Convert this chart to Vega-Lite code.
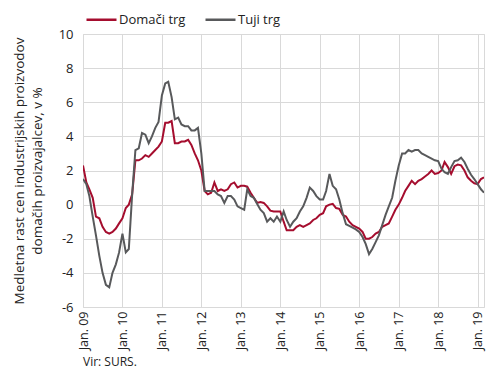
{
  "$schema": "https://vega.github.io/schema/vega-lite/v6.json",
  "width": 401,
  "height": 273,
  "autosize": {"type": "none"},
  "padding": {"left": 83, "top": 34, "right": 6, "bottom": 75},
  "background": "white",
  "config": {
    "font": "Open Sans",
    "view": {"stroke": "#d9d9d9", "strokeWidth": 1},
    "axis": {"labelFont": "Open Sans", "titleFont": "Open Sans", "labelColor": "#222", "titleColor": "#222"}
  },
  "title": {"text": "Vir: SURS.", "orient": "bottom", "anchor": "start", "frame": "group", "fontSize": 12, "fontWeight": "normal", "color": "#222", "offset": 7, "font": "Open Sans"},
  "data": {"values": [
    {"d":"2009-01-01","Domači trg":2.3,"Tuji trg":1.5},
    {"d":"2009-02-01","Domači trg":1.3,"Tuji trg":1.2},
    {"d":"2009-03-01","Domači trg":0.9,"Tuji trg":0.5},
    {"d":"2009-04-01","Domači trg":0.4,"Tuji trg":-0.7},
    {"d":"2009-05-01","Domači trg":-0.7,"Tuji trg":-1.8},
    {"d":"2009-06-01","Domači trg":-0.8,"Tuji trg":-3.0},
    {"d":"2009-07-01","Domači trg":-1.3,"Tuji trg":-4.0},
    {"d":"2009-08-01","Domači trg":-1.6,"Tuji trg":-4.7},
    {"d":"2009-09-01","Domači trg":-1.7,"Tuji trg":-4.85},
    {"d":"2009-10-01","Domači trg":-1.6,"Tuji trg":-4.0},
    {"d":"2009-11-01","Domači trg":-1.4,"Tuji trg":-3.5},
    {"d":"2009-12-01","Domači trg":-1.1,"Tuji trg":-2.8},
    {"d":"2010-01-01","Domači trg":-0.8,"Tuji trg":-1.7},
    {"d":"2010-02-01","Domači trg":-0.2,"Tuji trg":-2.8},
    {"d":"2010-03-01","Domači trg":0.0,"Tuji trg":-2.6},
    {"d":"2010-04-01","Domači trg":0.6,"Tuji trg":0.6},
    {"d":"2010-05-01","Domači trg":2.6,"Tuji trg":3.2},
    {"d":"2010-06-01","Domači trg":2.6,"Tuji trg":3.3},
    {"d":"2010-07-01","Domači trg":2.7,"Tuji trg":4.2},
    {"d":"2010-08-01","Domači trg":2.9,"Tuji trg":4.1},
    {"d":"2010-09-01","Domači trg":2.8,"Tuji trg":3.6},
    {"d":"2010-10-01","Domači trg":3.0,"Tuji trg":4.0},
    {"d":"2010-11-01","Domači trg":3.2,"Tuji trg":4.5},
    {"d":"2010-12-01","Domači trg":3.4,"Tuji trg":4.85},
    {"d":"2011-01-01","Domači trg":3.7,"Tuji trg":6.4},
    {"d":"2011-02-01","Domači trg":4.8,"Tuji trg":7.1},
    {"d":"2011-03-01","Domači trg":4.8,"Tuji trg":7.2},
    {"d":"2011-04-01","Domači trg":4.9,"Tuji trg":6.3},
    {"d":"2011-05-01","Domači trg":3.6,"Tuji trg":5.0},
    {"d":"2011-06-01","Domači trg":3.6,"Tuji trg":5.1},
    {"d":"2011-07-01","Domači trg":3.7,"Tuji trg":4.7},
    {"d":"2011-08-01","Domači trg":3.7,"Tuji trg":4.6},
    {"d":"2011-09-01","Domači trg":3.8,"Tuji trg":4.6},
    {"d":"2011-10-01","Domači trg":3.5,"Tuji trg":4.35},
    {"d":"2011-11-01","Domači trg":3.0,"Tuji trg":4.35},
    {"d":"2011-12-01","Domači trg":2.6,"Tuji trg":4.5},
    {"d":"2012-01-01","Domači trg":2.0,"Tuji trg":3.0},
    {"d":"2012-02-01","Domači trg":0.8,"Tuji trg":0.8},
    {"d":"2012-03-01","Domači trg":0.6,"Tuji trg":0.8},
    {"d":"2012-04-01","Domači trg":0.7,"Tuji trg":0.8},
    {"d":"2012-05-01","Domači trg":1.3,"Tuji trg":0.8},
    {"d":"2012-06-01","Domači trg":0.8,"Tuji trg":0.6},
    {"d":"2012-07-01","Domači trg":0.9,"Tuji trg":0.5},
    {"d":"2012-08-01","Domači trg":0.8,"Tuji trg":0.1},
    {"d":"2012-09-01","Domači trg":0.9,"Tuji trg":0.5},
    {"d":"2012-10-01","Domači trg":1.2,"Tuji trg":0.5},
    {"d":"2012-11-01","Domači trg":1.3,"Tuji trg":0.3},
    {"d":"2012-12-01","Domači trg":1.0,"Tuji trg":-0.1},
    {"d":"2013-01-01","Domači trg":1.1,"Tuji trg":-0.2},
    {"d":"2013-02-01","Domači trg":1.1,"Tuji trg":-0.3},
    {"d":"2013-03-01","Domači trg":1.05,"Tuji trg":0.9},
    {"d":"2013-04-01","Domači trg":0.7,"Tuji trg":0.5},
    {"d":"2013-05-01","Domači trg":0.4,"Tuji trg":0.4},
    {"d":"2013-06-01","Domači trg":0.1,"Tuji trg":0.04},
    {"d":"2013-07-01","Domači trg":0.15,"Tuji trg":-0.3},
    {"d":"2013-08-01","Domači trg":0.1,"Tuji trg":-0.5},
    {"d":"2013-09-01","Domači trg":-0.1,"Tuji trg":-1.0},
    {"d":"2013-10-01","Domači trg":-0.35,"Tuji trg":-0.8},
    {"d":"2013-11-01","Domači trg":-0.4,"Tuji trg":-1.0},
    {"d":"2013-12-01","Domači trg":-0.4,"Tuji trg":-0.7},
    {"d":"2014-01-01","Domači trg":-0.4,"Tuji trg":-1.0},
    {"d":"2014-02-01","Domači trg":-1.0,"Tuji trg":-0.4},
    {"d":"2014-03-01","Domači trg":-1.5,"Tuji trg":-0.9},
    {"d":"2014-04-01","Domači trg":-1.5,"Tuji trg":-1.3},
    {"d":"2014-05-01","Domači trg":-1.5,"Tuji trg":-1.0},
    {"d":"2014-06-01","Domači trg":-1.3,"Tuji trg":-0.8},
    {"d":"2014-07-01","Domači trg":-1.2,"Tuji trg":-0.4},
    {"d":"2014-08-01","Domači trg":-1.3,"Tuji trg":-0.1},
    {"d":"2014-09-01","Domači trg":-1.2,"Tuji trg":0.4},
    {"d":"2014-10-01","Domači trg":-1.1,"Tuji trg":1.0},
    {"d":"2014-11-01","Domači trg":-0.9,"Tuji trg":0.8},
    {"d":"2014-12-01","Domači trg":-0.8,"Tuji trg":0.5},
    {"d":"2015-01-01","Domači trg":-0.6,"Tuji trg":0.3},
    {"d":"2015-02-01","Domači trg":-0.5,"Tuji trg":0.3},
    {"d":"2015-03-01","Domači trg":-0.1,"Tuji trg":0.8},
    {"d":"2015-04-01","Domači trg":0.0,"Tuji trg":1.8},
    {"d":"2015-05-01","Domači trg":0.05,"Tuji trg":1.1},
    {"d":"2015-06-01","Domači trg":-0.2,"Tuji trg":0.9},
    {"d":"2015-07-01","Domači trg":-0.25,"Tuji trg":0.3},
    {"d":"2015-08-01","Domači trg":-0.6,"Tuji trg":-0.5},
    {"d":"2015-09-01","Domači trg":-0.7,"Tuji trg":-1.15},
    {"d":"2015-10-01","Domači trg":-1.0,"Tuji trg":-1.25},
    {"d":"2015-11-01","Domači trg":-1.2,"Tuji trg":-1.35},
    {"d":"2015-12-01","Domači trg":-1.3,"Tuji trg":-1.45},
    {"d":"2016-01-01","Domači trg":-1.4,"Tuji trg":-1.6},
    {"d":"2016-02-01","Domači trg":-1.6,"Tuji trg":-1.9},
    {"d":"2016-03-01","Domači trg":-2.0,"Tuji trg":-2.3},
    {"d":"2016-04-01","Domači trg":-2.0,"Tuji trg":-2.9},
    {"d":"2016-05-01","Domači trg":-1.9,"Tuji trg":-2.6},
    {"d":"2016-06-01","Domači trg":-1.7,"Tuji trg":-2.2},
    {"d":"2016-07-01","Domači trg":-1.6,"Tuji trg":-1.8},
    {"d":"2016-08-01","Domači trg":-1.3,"Tuji trg":-1.2},
    {"d":"2016-09-01","Domači trg":-1.2,"Tuji trg":-0.6},
    {"d":"2016-10-01","Domači trg":-1.1,"Tuji trg":-0.1},
    {"d":"2016-11-01","Domači trg":-0.7,"Tuji trg":0.4},
    {"d":"2016-12-01","Domači trg":-0.3,"Tuji trg":1.4},
    {"d":"2017-01-01","Domači trg":0.0,"Tuji trg":2.3},
    {"d":"2017-02-01","Domači trg":0.4,"Tuji trg":3.0},
    {"d":"2017-03-01","Domači trg":0.8,"Tuji trg":3.0},
    {"d":"2017-04-01","Domači trg":1.1,"Tuji trg":3.2},
    {"d":"2017-05-01","Domači trg":1.4,"Tuji trg":3.1},
    {"d":"2017-06-01","Domači trg":1.2,"Tuji trg":3.2},
    {"d":"2017-07-01","Domači trg":1.4,"Tuji trg":3.2},
    {"d":"2017-08-01","Domači trg":1.5,"Tuji trg":3.0},
    {"d":"2017-09-01","Domači trg":1.65,"Tuji trg":2.9},
    {"d":"2017-10-01","Domači trg":1.8,"Tuji trg":2.8},
    {"d":"2017-11-01","Domači trg":2.0,"Tuji trg":2.7},
    {"d":"2017-12-01","Domači trg":1.8,"Tuji trg":2.6},
    {"d":"2018-01-01","Domači trg":1.85,"Tuji trg":2.55},
    {"d":"2018-02-01","Domači trg":2.0,"Tuji trg":2.1},
    {"d":"2018-03-01","Domači trg":2.5,"Tuji trg":1.9},
    {"d":"2018-04-01","Domači trg":2.2,"Tuji trg":1.8},
    {"d":"2018-05-01","Domači trg":1.8,"Tuji trg":2.2},
    {"d":"2018-06-01","Domači trg":2.25,"Tuji trg":2.55},
    {"d":"2018-07-01","Domači trg":2.35,"Tuji trg":2.6},
    {"d":"2018-08-01","Domači trg":2.3,"Tuji trg":2.75},
    {"d":"2018-09-01","Domači trg":2.0,"Tuji trg":2.5},
    {"d":"2018-10-01","Domači trg":1.6,"Tuji trg":2.1},
    {"d":"2018-11-01","Domači trg":1.4,"Tuji trg":1.75},
    {"d":"2018-12-01","Domači trg":1.25,"Tuji trg":1.5},
    {"d":"2019-01-01","Domači trg":1.2,"Tuji trg":1.2},
    {"d":"2019-02-01","Domači trg":1.5,"Tuji trg":0.9},
    {"d":"2019-03-01","Domači trg":1.6,"Tuji trg":0.7}
  ]},
  "transform": [{"fold": ["Domači trg", "Tuji trg"], "as": ["serija", "v"]}],
  "mark": {"type": "line", "strokeWidth": 2, "clip": true},
  "encoding": {
    "x": {
      "field": "d", "type": "temporal",
      "scale": {"type": "utc", "domain": [{"year": 2009, "month": 1, "date": 1, "utc": true}, {"year": 2019, "month": 3, "date": 1, "utc": true}]},
      "axis": {
        "title": null,
        "values": [
          {"year": 2009, "month": 1, "date": 1, "utc": true},
          {"year": 2010, "month": 1, "date": 1, "utc": true},
          {"year": 2011, "month": 1, "date": 1, "utc": true},
          {"year": 2012, "month": 1, "date": 1, "utc": true},
          {"year": 2013, "month": 1, "date": 1, "utc": true},
          {"year": 2014, "month": 1, "date": 1, "utc": true},
          {"year": 2015, "month": 1, "date": 1, "utc": true},
          {"year": 2016, "month": 1, "date": 1, "utc": true},
          {"year": 2017, "month": 1, "date": 1, "utc": true},
          {"year": 2018, "month": 1, "date": 1, "utc": true},
          {"year": 2019, "month": 1, "date": 1, "utc": true}
        ],
        "labelExpr": "utcFormat(datum.value, '%b. %y')",
        "labelAngle": 270,
        "labelFontSize": 12.5,
        "labelPadding": 4,
        "ticks": false,
        "domain": false,
        "grid": true,
        "gridColor": "#d9d9d9",
        "gridWidth": 1
      }
    },
    "y": {
      "field": "v", "type": "quantitative",
      "scale": {"domain": [-6, 10], "nice": false},
      "axis": {
        "title": ["Medletna rast cen industrijskih proizvodov", "domačih proizvajalcev, v %"],
        "titleFontSize": 13.5,
        "titleFontWeight": "normal",
        "titleLineHeight": 18,
        "titlePadding": 14,
        "values": [-6, -4, -2, 0, 2, 4, 6, 8, 10],
        "labelExpr": "datum.value + ''",
        "labelFontSize": 13,
        "labelPadding": 10,
        "ticks": false,
        "domain": false,
        "grid": true,
        "gridColor": "#d9d9d9",
        "gridWidth": 1
      }
    },
    "color": {
      "field": "serija", "type": "nominal",
      "scale": {"domain": ["Domači trg", "Tuji trg"], "range": ["#a50d2e", "#58595b"]},
      "legend": {
        "title": null,
        "orient": "none",
        "legendX": 2,
        "legendY": -31,
        "direction": "horizontal",
        "symbolType": "stroke",
        "symbolSize": 900,
        "symbolStrokeWidth": 2.5,
        "labelFontSize": 13,
        "labelFont": "Open Sans",
        "labelColor": "#222",
        "labelOffset": 1,
        "columnPadding": 14
      }
    }
  }
}
